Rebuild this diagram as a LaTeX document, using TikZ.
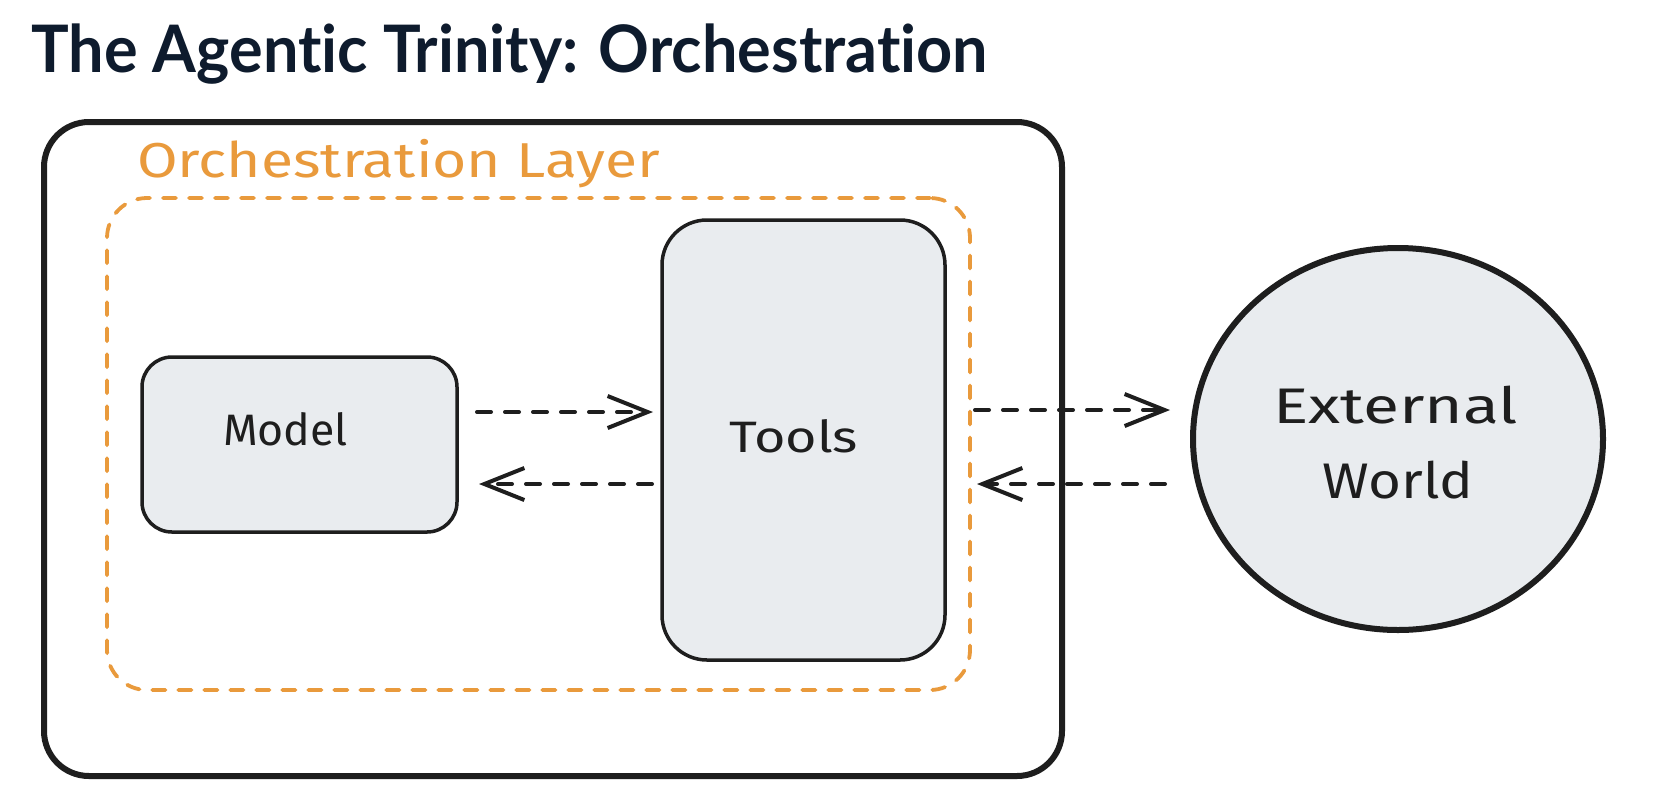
\documentclass[tikz,border=0pt]{standalone}
\usepackage{fontspec}
\usepackage{graphicx}
\setmainfont{Fira Sans}
\newfontfamily\titlefont{Lato}[Ligatures={NoCommon,NoDiscretionary}]
\newfontfamily\handfont{Fira Sans}
\usetikzlibrary{shapes.geometric,arrows.meta}
\definecolor{ink}{HTML}{1E1E1E}
\definecolor{navy}{HTML}{0E1B2D}
\definecolor{orng}{HTML}{E99A3C}
\definecolor{boxfill}{HTML}{E9ECEF}
\newlength\fitlen
\newcommand\fitto[2]{\settowidth{\fitlen}{#2}\pgfmathsetmacro\fitfac{#1/\fitlen}\scalebox{\fitfac}[1]{#2}}
\tikzset{
  frame/.style={draw=ink, line width=6pt, rounded corners=45pt, inner sep=0pt, outer sep=0pt},
  layer/.style={draw=orng, line width=3.8pt, line cap=round, dash pattern=on 13pt off 13pt, rounded corners=40pt, inner sep=0pt, outer sep=0pt},
  box/.style={draw=ink, fill=boxfill, line width=3.5pt, inner sep=0pt, outer sep=0pt},
  world/.style={ellipse, draw=ink, fill=boxfill, line width=6pt, inner sep=0pt, outer sep=0pt, minimum width=410pt, minimum height=382pt},
  lbl/.style={inner sep=0pt, text=ink, anchor=base, font={\handfont\fontsize{44}{52}\selectfont}},
  flow/.style={draw=ink, line width=4pt, line cap=round, dash pattern=on 14pt off 14pt, -{Straight Barb[length=40pt, width=32pt, line width=4pt]}},
}
\begin{document}
\begin{tikzpicture}[x=1pt, y=-1pt]
\fill[white] (0,0) rectangle (1656,804);
\path[use as bounding box] (0,0) rectangle (1656,804);
% title
\node[inner sep=0pt, anchor=base west, text=navy, font={\titlefont\bfseries\fontsize{65.5}{78}\selectfont}] (title) at (31,72) {\fitto{957}{The Agentic Trinity: Orchestration}};
% containers
\node[frame, minimum width=1018pt, minimum height=654pt] (outer) at (553,449) {};
\node[layer, minimum width=863pt, minimum height=492pt] (layerbox) at (538.5,444) {};
\node[inner sep=0pt, anchor=base west, text=orng, font={\handfont\fontsize{49}{58}\selectfont}] (layername) at (137,177) {\fitto{523}{Orchestration Layer}};
% boxes
\node[box, rounded corners=30pt, minimum width=315pt, minimum height=175pt] (model) at (299.5,444.5) {};
\node[box, rounded corners=45pt, minimum width=283pt, minimum height=440pt] (tools) at (803.5,440) {};
\node[world] (world) at (1398,439) {};
% labels
\node[lbl] (modeltxt) at (285.5,445) {\fitto{125}{Model}};
\node[lbl] (toolstxt) at (793.5,452) {\fitto{129}{Tools}};
\node[lbl, font={\handfont\fontsize{50}{60}\selectfont}] (exttxt) at (1395.5,423) {\fitto{245}{External}};
\node[lbl, font={\handfont\fontsize{50}{60}\selectfont}] (worldtxt) at (1397.5,498) {\fitto{151}{World}};
% connectors
\draw[flow] ([shift={(20,-32.5)}]model.east) -- ([shift={(-9,-28)}]tools.west);
\draw[flow] ([shift={(-10,44)}]tools.west) -- ([shift={(22,39.5)}]model.east);
\draw[flow] ([shift={(30,-30)}]tools.east) -- ([shift={(-23,-29)}]world.west);
\draw[flow] ([shift={(-28,45)}]world.west) -- ([shift={(32,44)}]tools.east);
\end{tikzpicture}
\end{document}
